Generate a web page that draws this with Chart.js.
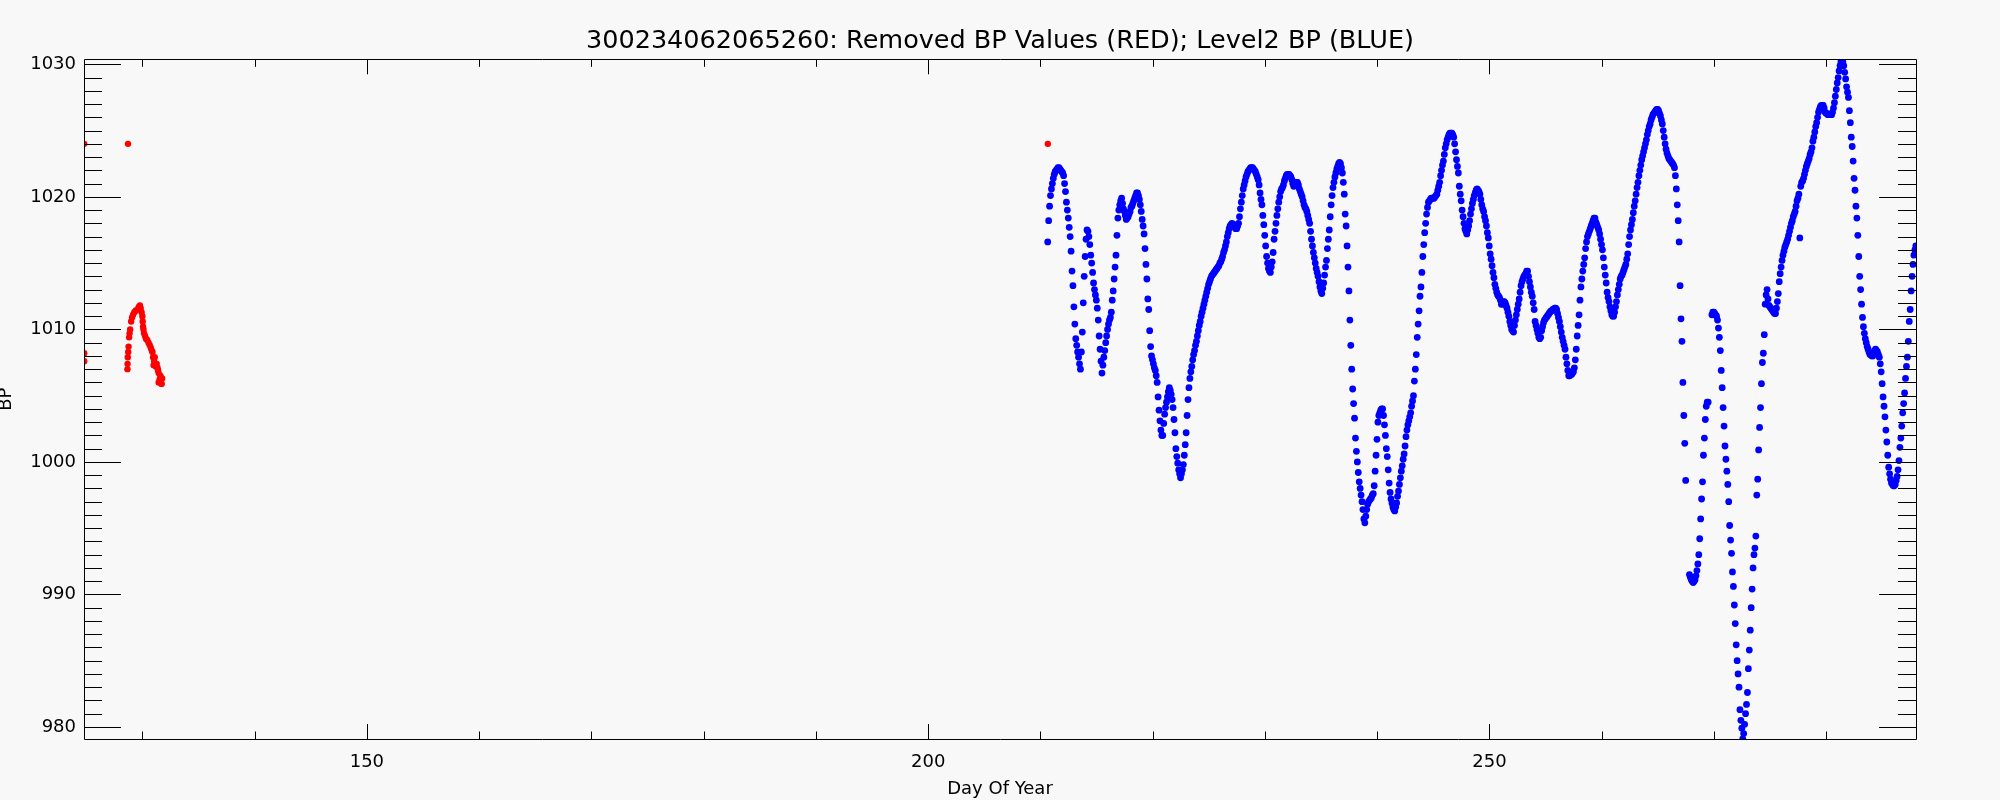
<!DOCTYPE html>
<html>
<head>
<meta charset="utf-8">
<script src="https://cdn.jsdelivr.net/npm/chart.js@4.4.1/dist/chart.umd.min.js"></script>
<style>
  html, body { margin: 0; padding: 0; background: #f8f8f8; }
  canvas { display: block; }
</style>
</head>
<body>
<canvas id="chart" width="2000" height="800"></canvas>
<script>
// axis ranges and ticks
const xMin = 124.8, xMax = 288.0
const yMin = 979.09, yMax = 1030.38
const xTicks = [150, 200, 250]
const yTicks = [980, 990, 1000, 1010, 1020, 1030]
const xMinorStep = 10
const yMinorStep = 1

// removed values (red)
const redDays = [124.82, 124.82, 124.82, 128.72,
  128.67, 128.68, 128.70, 128.74, 128.77, 128.82, 128.86, 128.91, 129.00, 129.08,
  129.17, 129.28, 129.40, 129.55, 129.68, 129.78, 129.85, 129.93, 130.00, 130.03,
  130.06, 130.10, 130.15, 130.24, 130.32, 130.43, 130.55, 130.66, 130.76, 130.84,
  130.90, 130.95, 131.00, 131.05, 131.10, 131.20, 131.28, 131.35, 131.40, 131.45,
  131.53, 131.60, 131.45, 131.64, 131.68, 131.72, 131.76,
  210.66]
const redBP = [1024.0, 1008.2, 1007.6, 1024.0,
  1007.0, 1007.4, 1007.9, 1008.3, 1008.7, 1009.4, 1009.7, 1010.0, 1010.6, 1010.9,
  1011.1, 1011.3, 1011.4, 1011.5, 1011.7, 1011.8, 1011.6, 1011.3, 1011.0, 1010.6,
  1010.2, 1010.0, 1009.7, 1009.5, 1009.3, 1009.2, 1009.0, 1008.8, 1008.6, 1008.4,
  1008.3, 1007.9, 1007.3, 1007.6, 1007.9, 1007.2, 1007.4, 1007.1, 1006.9, 1006.7,
  1006.2, 1006.5, 1006.0, 1006.4, 1005.9, 1005.9, 1006.3,
  1024.0]

// level2 BP (blue), one reading every 2 hours from day 210.65, null = missing
const blueStartDay = 210.65
const blueStepHours = 2
const blueBP = [
  1016.6,1018.2,1019.3,1020.1,1020.6,1021.0,1021.4,1021.7,1021.9,1022.0,1022.1,1022.2,
  1022.2,1022.1,1022.0,1021.9,1021.8,1021.6,1021.0,1020.4,1019.6,1019.0,1018.4,1017.7,
  1017.0,1015.9,1014.4,1013.3,1011.7,1010.4,1009.3,1008.8,1008.3,1007.9,1007.4,1007.0,
  1008.3,1009.8,1012.0,1014.0,1015.5,1016.8,1017.5,1017.4,1017.0,1016.4,1015.6,1015.0,
  1014.3,1013.5,1013.0,1012.6,1012.2,1011.6,1010.7,1009.5,1008.5,1007.6,1006.7,1007.3,
  1007.9,1008.4,1009.0,1009.5,1010.0,1010.4,1010.7,1010.9,1011.3,1012.2,1012.9,1013.8,
  1014.7,1015.6,1017.1,1018.4,1019.0,1019.4,1019.7,1019.9,1019.5,1019.1,1018.9,1018.6,
  1018.3,1018.4,1018.5,1018.7,1018.9,1019.2,1019.3,1019.5,1019.7,1019.9,1020.1,1020.3,
  1020.3,1020.1,1019.8,1019.4,1018.9,1018.3,1017.8,1017.2,1016.1,1014.9,1013.8,1012.3,
  1011.5,1009.9,1008.7,1008.0,1007.7,1007.4,1007.1,1006.9,1006.5,1006.0,1004.9,1003.9,
  1003.1,1002.4,1002.0,1002.0,1002.9,1003.6,1004.1,1004.5,1004.9,1005.3,1005.6,1005.4,
  1005.1,1004.7,1004.1,1003.2,1002.2,1001.0,1000.4,999.9,999.4,999.1,998.8,999.1,
  999.4,999.8,1000.5,1001.3,1002.2,1003.5,1004.7,1005.6,1006.3,1006.8,1007.2,1007.7,
  1008.1,1008.4,1008.8,1009.1,1009.5,1009.9,1010.3,1010.6,1011.0,1011.3,1011.6,1011.9,
  1012.2,1012.5,1012.8,1013.1,1013.4,1013.6,1013.8,1014.0,1014.1,1014.2,1014.3,1014.4,
  1014.5,1014.6,1014.7,1014.8,1015.0,1015.1,1015.3,1015.5,1015.8,1016.0,1016.3,1016.6,
  1017.0,1017.3,1017.6,1017.8,1017.9,1018.0,1017.9,1017.9,1017.7,1017.6,1017.6,1017.8,
  1018.0,1018.5,1019.1,1019.6,1020.1,1020.6,1020.9,1021.2,1021.5,1021.7,1021.9,1022.0,
  1022.1,1022.2,1022.2,1022.2,1022.1,1022.0,1021.9,1021.7,1021.5,1021.3,1020.9,1020.3,
  1019.8,1019.4,1018.6,1017.9,1017.1,1016.3,1015.5,1015.0,1014.6,1014.4,1014.3,1014.7,
  1015.1,1015.8,1016.8,1017.4,1018.0,1018.6,1019.1,1019.6,1020.0,1020.4,1020.6,1020.7,
  1020.9,1021.2,1021.4,1021.6,1021.7,1021.7,1021.7,1021.6,1021.5,1021.3,1021.0,1020.8,
  1021.0,1021.1,1021.1,1021.1,1020.9,1020.6,1020.4,1020.2,1020.0,1019.7,1019.4,1019.2,
  1019.1,1018.9,1018.6,1018.3,1018.0,1017.4,1016.8,1016.3,1015.8,1015.4,1015.0,1014.6,
  1014.3,1014.0,1013.6,1013.2,1012.9,1012.7,1013.1,1013.5,1014.1,1014.7,1015.2,1016.1,
  1016.8,1017.5,1018.5,1019.4,1020.1,1020.7,1021.1,1021.5,1021.8,1022.1,1022.3,1022.5,
  1022.6,1022.5,1022.2,1021.8,1021.1,1020.2,1018.7,1017.8,1016.3,1014.7,1012.9,1010.7,
  1008.8,1007.0,1005.5,1004.4,1003.3,1001.8,1000.8,1000.0,999.2,998.5,998.0,997.5,
  997.0,996.4,995.7,995.4,995.9,996.4,996.8,997.0,997.1,997.2,997.3,997.5,
  997.6,998.2,999.3,1000.5,1001.7,1003.0,1003.5,1003.7,1003.9,1004.0,1004.0,1003.5,
  1002.8,1002.0,1001.0,1000.4,999.4,998.4,997.7,997.2,996.9,996.6,996.4,996.3,
  996.6,996.9,997.4,997.8,998.3,998.8,999.3,999.7,1000.2,1000.6,1001.2,1001.9,
  1002.4,1002.8,1003.1,1003.4,1003.7,1004.2,1004.6,1005.0,1006.1,1007.0,1008.1,1009.4,
  1010.4,1011.4,1012.5,1013.2,1014.3,1015.5,1016.4,1017.3,1018.0,1018.7,1019.2,1019.6,
  1019.7,1019.8,1019.9,1019.9,1019.9,1019.9,1020.0,1020.1,1020.2,1020.5,1020.8,1021.1,
  1021.6,1022.0,1022.4,1022.7,1023.2,1023.7,1024.0,1024.3,1024.5,1024.7,1024.8,1024.8,
  1024.8,1024.7,1024.5,1024.0,1023.4,1022.8,1022.3,1021.8,1020.8,1020.2,1019.7,1019.0,
  1018.5,1018.0,1017.6,1017.4,1017.2,1017.5,1017.8,1018.2,1018.7,1019.1,1019.5,1019.8,
  1020.1,1020.3,1020.5,1020.6,1020.5,1020.4,1020.2,1019.8,1019.4,1019.1,1018.9,1018.5,
  1018.2,1017.8,1017.3,1016.9,1016.3,1015.7,1015.3,1014.8,1014.3,1013.9,1013.4,1013.1,
  1012.8,1012.6,1012.5,1012.4,1012.2,1011.9,1011.9,1012.1,1012.1,1012.0,1011.8,1011.6,
  1011.3,1011.0,1010.6,1010.3,1010.0,1009.9,1009.8,1010.3,1010.7,1011.1,1011.5,1011.9,
  1012.3,1012.8,1013.3,1013.6,1013.8,1014.0,1014.1,1014.2,1014.4,1014.4,1014.0,1013.6,
  1013.2,1012.8,1012.5,1012.0,1011.5,1010.6,1010.3,1010.0,1009.7,1009.4,1009.3,1009.4,
  1009.9,1010.2,1010.5,1010.7,1010.8,1010.9,1011.0,1011.1,1011.2,1011.3,1011.4,1011.4,
  1011.5,1011.5,1011.6,1011.6,1011.5,1011.2,1010.9,1010.6,1010.2,1009.8,1009.4,1009.1,
  1008.8,1008.5,1007.9,1007.4,1006.9,1006.5,1006.5,1006.6,1006.6,1006.7,1006.8,1007.1,
  1007.7,1008.5,1009.5,1010.3,1011.1,1012.2,1013.2,1013.8,1014.4,1014.9,1015.4,1016.1,
  1016.6,1017.0,1017.2,1017.4,1017.6,1017.8,1018.0,1018.2,1018.4,1018.4,1018.1,1017.9,
  1017.7,1017.5,1017.2,1016.8,1016.4,1016.0,1015.4,1014.7,1014.1,1013.5,1012.8,1012.4,
  1012.1,1011.7,1011.4,1011.1,1011.0,1011.0,1011.3,1011.7,1012.1,1012.6,1013.0,1013.4,
  1013.8,1014.0,1014.1,1014.3,1014.5,1014.7,1014.9,1015.3,1015.7,1016.4,1017.0,1017.5,
  1017.9,1018.3,1018.8,1019.3,1019.7,1020.2,1020.7,1021.1,1021.6,1022.0,1022.4,1022.8,
  1023.1,1023.4,1023.7,1024.0,1024.3,1024.7,1025.0,1025.3,1025.5,1025.8,1026.0,1026.2,
  1026.3,1026.4,1026.5,1026.6,1026.6,1026.5,1026.3,1026.1,1025.8,1025.5,1025.0,1024.5,
  1024.0,1023.6,1023.3,1023.1,1022.9,1022.8,1022.7,1022.6,1022.5,1022.4,1022.2,1021.6,
  1020.6,1019.4,1018.2,1016.6,1013.3,1010.8,1009.1,1006.0,1003.5,1001.4,998.6,null,
  null,null,991.5,991.3,991.1,991.0,990.9,991.0,991.1,991.4,991.8,992.3,
  993.0,994.2,995.7,997.2,998.5,1000.5,1001.8,1003.2,1004.2,1004.5,1004.5,null,
  null,null,1011.1,1011.3,1011.3,1011.2,1011.1,1011.0,1010.7,1010.1,1009.4,1008.4,
  1006.9,1005.6,1004.1,1002.7,1001.2,1000.2,999.3,998.3,997.0,995.2,994.1,993.1,
  991.7,990.6,989.2,987.8,986.2,985.0,984.0,983.0,981.3,980.5,979.9,979.1,
  979.5,980.2,981.0,981.7,982.6,984.4,985.8,987.3,989.0,990.4,992.0,993.0,
  993.5,994.4,997.5,998.7,1000.9,1002.6,1004.1,1005.9,1007.5,1008.2,1009.6,1011.9,
  1012.6,1013.0,1012.3,1011.8,1011.7,1011.6,1011.5,1011.4,1011.3,1011.2,1011.2,1011.6,
  1012.1,1012.7,1013.6,1014.2,1014.7,1015.2,1015.6,1015.9,1016.2,1016.4,1016.6,1016.8,
  1017.1,1017.4,1017.7,1018.0,1018.2,1018.5,1018.7,1018.9,1019.3,1019.7,1019.9,1020.2,
  1016.9,1020.8,1021.1,1021.2,1021.4,1021.7,1022.0,1022.3,1022.5,1022.7,1022.9,1023.2,
  1023.4,1023.7,1024.2,1024.5,1024.9,1025.3,1025.6,1026.0,1026.4,1026.6,1026.8,1026.9,
  1026.9,1026.9,1026.7,1026.4,1026.3,1026.3,1026.2,1026.2,1026.2,1026.2,1026.2,1026.4,
  1026.7,1027.1,1027.6,1028.1,1028.6,1029.0,1029.5,1029.9,1030.2,1030.3,1030.2,1029.9,
  1029.4,1028.9,1028.3,1027.9,1027.5,1026.5,1025.6,1024.5,1023.8,1022.7,1021.4,1020.5,
  1019.3,1018.4,1017.1,1015.5,1014.0,1013.0,1011.9,1010.9,1010.2,1009.7,1009.3,1009.0,
  1008.7,1008.5,1008.3,1008.1,1008.1,1008.0,1008.0,1008.2,1008.4,1008.5,1008.4,1008.3,
  1008.1,1007.9,1007.4,1006.8,1005.9,1004.9,1004.2,1003.4,1002.4,1001.5,1000.5,999.6,
  999.1,998.7,998.4,998.3,998.2,998.2,998.3,998.6,998.9,999.4,1000.1,1001.1,
  1001.8,1002.7,1003.7,1004.4,1005.2,1006.3,1007.2,1007.9,1009.1,1010.6,1011.5,1012.9,
  1014.0,1014.9,1015.6,1016.0,1016.3
]

const titleText = '300234062065260: Removed BP Values (RED); Level2 BP (BLUE)'

let blueData = []
blueBP.forEach((v, i) => {
  if (v !== null) blueData.push({ x: blueStartDay + i * blueStepHours / 24, y: v })
})
let redData = redDays.map((d, i) => ({ x: d, y: redBP[i] }))

// box round the plot with inward ticks on all four sides, like the IDL plot
const axisFrame = {
  id: 'axisFrame',
  afterDatasetsDraw(chart) {
    const { ctx, chartArea: a, scales: { x, y } } = chart
    ctx.save()
    ctx.strokeStyle = '#000'
    ctx.lineWidth = 1
    ctx.beginPath()
    ctx.rect(Math.round(a.left) + 0.5, Math.round(a.top) + 0.5,
      Math.round(a.right - a.left), Math.round(a.bottom - a.top))
    for (let v = Math.ceil(x.min / xMinorStep) * xMinorStep; v <= x.max; v += xMinorStep) {
      const px = Math.round(x.getPixelForValue(v)) + 0.5
      const len = xTicks.includes(v) ? 15 : 7.5
      ctx.moveTo(px, a.bottom); ctx.lineTo(px, a.bottom - len)
      ctx.moveTo(px, a.top); ctx.lineTo(px, a.top + len)
    }
    for (let v = Math.ceil(y.min / yMinorStep) * yMinorStep; v <= y.max; v += yMinorStep) {
      const py = Math.round(y.getPixelForValue(v)) + 0.5
      const len = yTicks.includes(v) ? 37 : 18
      ctx.moveTo(a.left, py); ctx.lineTo(a.left + len, py)
      ctx.moveTo(a.right, py); ctx.lineTo(a.right - len, py)
    }
    ctx.stroke()
    ctx.restore()
  }
}

Chart.defaults.font.family = 'DejaVu Sans'
Chart.defaults.color = '#000'

const font = { family: 'DejaVu Sans', size: 18 }

const ctx = document.getElementById('chart').getContext('2d')
new Chart(ctx, {
  type: 'scatter',
  data: {
    datasets: [{
      label: 'Level2 BP',
      data: blueData,
      pointRadius: 3.4,
      pointBorderWidth: 0,
      pointBackgroundColor: '#0000ff',
      showLine: false,
      clip: 0
    }, {
      label: 'Removed BP',
      data: redData,
      pointRadius: 3.2,
      pointBorderWidth: 0,
      pointBackgroundColor: '#ff0000',
      showLine: false,
      clip: 0
    }]
  },
  options: {
    responsive: false,
    animation: false,
    devicePixelRatio: 1,
    layout: { padding: { left: 0, right: 84, top: 0, bottom: 0 } },
    plugins: {
      legend: { display: false },
      tooltip: { enabled: false },
      title: {
        display: true,
        text: titleText,
        fullSize: false,
        color: '#000',
        font: { family: 'DejaVu Sans', size: 25.5, weight: 'normal' },
        padding: { top: 26, bottom: 2.7 }
      }
    },
    scales: {
      x: {
        type: 'linear',
        min: xMin,
        max: xMax,
        afterBuildTicks: s => { s.ticks = xTicks.map(v => ({ value: v })) },
        afterFit: s => { s.height = 61 },
        grid: { display: false, drawTicks: false },
        border: { display: false },
        ticks: { font: font, color: '#000', padding: 13, callback: v => String(v) },
        title: { display: true, text: 'Day Of Year', font: font, color: '#000', padding: 0 }
      },
      y: {
        type: 'linear',
        min: yMin,
        max: yMax,
        afterBuildTicks: s => { s.ticks = yTicks.map(v => ({ value: v })) },
        afterFit: s => { s.width = 84 },
        grid: { display: false, drawTicks: false },
        border: { display: false },
        ticks: { font: font, color: '#000', padding: 8, callback: v => String(v) },
        title: { display: true, text: 'BP', font: { family: 'DejaVu Sans', size: 18, lineHeight: 0.67 }, color: '#000', padding: 0 }
      }
    }
  },
  plugins: [axisFrame]
})
</script>
</body>
</html>
